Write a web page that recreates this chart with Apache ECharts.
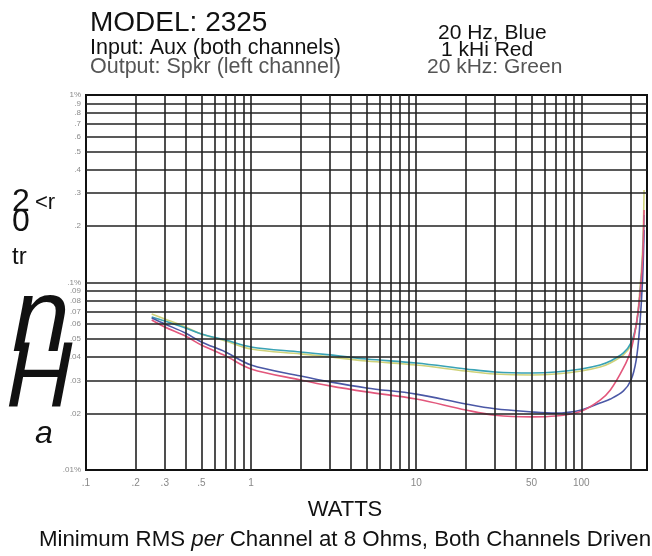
<!DOCTYPE html>
<html>
<head>
<meta charset="utf-8">
<script src="https://cdn.jsdelivr.net/npm/echarts@6/dist/echarts.min.js"></script>
<style>html,body{margin:0;padding:0;background:#fff}#c{width:652px;height:556px}</style>
</head>
<body>
<div id="c"></div>
<script>
// ---- data (watts vs THD %) ----
var watts = [0.25, 0.3, 0.4, 0.5, 0.7, 1, 2, 3, 5, 10, 20, 30, 50, 70, 100, 130, 150, 180, 200, 215, 225, 235, 240];
var thdYellow = [0.0679, 0.0639, 0.0579, 0.0531, 0.0488, 0.0442, 0.0416, 0.0401, 0.0381, 0.0363, 0.0337, 0.0325, 0.0321, 0.0325, 0.0337, 0.0354, 0.0372, 0.0411, 0.0464, 0.0593, 0.0858, 0.149, 0.311];
var thdTeal   = [0.0655, 0.0623, 0.0572, 0.0531, 0.0493, 0.0453, 0.0426, 0.0411, 0.0391, 0.0372, 0.0346, 0.0333, 0.0329, 0.0333, 0.0346, 0.0363, 0.0381, 0.0421, 0.0476, 0.0593, 0.0807, 0.1318, 0.229];
var thdBlue   = [0.0647, 0.0601, 0.0538, 0.0482, 0.0426, 0.0363, 0.0317, 0.0295, 0.0274, 0.0254, 0.0225, 0.0212, 0.0204, 0.0201, 0.0209, 0.0228, 0.0239, 0.0264, 0.0302, 0.0386, 0.0558, 0.1031, 0.1905];
var thdRed    = [0.0631, 0.0579, 0.0518, 0.0464, 0.0406, 0.0346, 0.0302, 0.0281, 0.0261, 0.0239, 0.0209, 0.0196, 0.0192, 0.0194, 0.0206, 0.0236, 0.0267, 0.035, 0.0437, 0.0593, 0.0807, 0.1318, 0.2435];

var xGrid = [0.2,0.3,0.4,0.5,0.6,0.7,0.8,0.9,1,2,3,4,5,6,7,8,9,10,20,30,40,50,60,70,80,90,100,200];
var yGrid = [0.02,0.03,0.04,0.05,0.06,0.07,0.08,0.09,0.1,0.2,0.3,0.4,0.5,0.6,0.7,0.8,0.9];
var xTickVals = [0.1, 0.2, 0.3, 0.5, 1, 10, 50, 100];
var xTickLabels = ['.1', '.2', '.3', '.5', '1', '10', '50', '100'];
var yTickVals = [1,0.9,0.8,0.7,0.6,0.5,0.4,0.3,0.2,0.1,0.09,0.08,0.07,0.06,0.05,0.04,0.03,0.02,0.01];
var yTickLabels = ['1%','.9','.8','.7','.6','.5','.4','.3','.2','.1%','.09','.08','.07','.06','.05','.04','.03','.02','.01%'];

function pairs(ys){ return watts.map(function(w,i){ return [w, ys[i]]; }); }
function lookup(vals, labels, v){
  for (var i=0;i<vals.length;i++){ if (Math.abs(vals[i]-v) < vals[i]*1e-6) return labels[i]; }
  return '';
}

var gridLine = {color:'#222', width:1.6, type:'solid'};
var mlData = [];
xGrid.forEach(function(v){ mlData.push({xAxis:v}); });
yGrid.forEach(function(v){ mlData.push({yAxis:v}); });

var FF = 'Liberation Sans, Arial, sans-serif';
function curve(name, ys, color){
  return {name:name, type:'line', data:pairs(ys), smooth:0.35, symbol:'none', z:4,
    lineStyle:{color:color, width:1.6}, itemStyle:{color:color}};
}

var chart = echarts.init(document.getElementById('c'), null, {renderer:'canvas'});
chart.setOption({
  animation:false,
  backgroundColor:'#fff',
  grid:{left:86, right:5, top:95, bottom:86, show:true, borderColor:'#111', borderWidth:2, backgroundColor:'transparent'},
  xAxis:{type:'log', logBase:10, min:0.1, max:250,
    axisLine:{show:true, lineStyle:{color:'#111', width:2}}, axisTick:{show:false},
    axisLabel:{show:true, customValues:xTickVals, margin:8, color:'#888', fontSize:10, fontFamily:FF,
      hideOverlap:false, showMinLabel:true, showMaxLabel:true,
      formatter:function(v){ return lookup(xTickVals, xTickLabels, v); }},
    splitLine:{show:false}},
  yAxis:{type:'log', logBase:10, min:0.01, max:1,
    axisLine:{show:true, lineStyle:{color:'#111', width:2}}, axisTick:{show:false},
    axisLabel:{show:true, customValues:yTickVals, margin:5, color:'#8a8a8a', fontSize:8, fontFamily:FF,
      hideOverlap:false, showMinLabel:true, showMaxLabel:true,
      formatter:function(v){ return lookup(yTickVals, yTickLabels, v); }},
    splitLine:{show:false}},
  series:[
    {name:'grid', type:'line', data:[], z:1, silent:true,
      markLine:{silent:true, symbol:['none','none'], animation:false, label:{show:false}, lineStyle:gridLine, data:mlData}},
    curve('20 kHz (A)', thdYellow, '#cfd27a'),
    curve('20 kHz (B)', thdTeal, '#3aa3b5'),
    curve('20 Hz', thdBlue, '#4b58a6'),
    curve('1 kHz', thdRed, '#e2577c')
  ],
  graphic:[
    {type:'text', x:90, y:9, style:{text:'MODEL: 2325', fontSize:28, fontFamily:FF, fill:'#111'}},
    {type:'text', x:90, y:37, style:{text:'Input: Aux (both channels)', fontSize:21.5, fontFamily:FF, fill:'#111'}},
    {type:'text', x:90, y:56, style:{text:'Output: Spkr (left channel)', fontSize:21.5, fontFamily:FF, fill:'#555'}},
    {type:'text', x:438, y:23, style:{text:'20 Hz, Blue', fontSize:21, fontFamily:FF, fill:'#111'}},
    {type:'text', x:441, y:40, style:{text:'1 kHi Red', fontSize:21, fontFamily:FF, fill:'#111'}},
    {type:'text', x:427, y:57, style:{text:'20 kHz: Green', fontSize:21, fontFamily:FF, fill:'#555'}},
    {type:'text', x:345, y:499, style:{text:'WATTS', fontSize:22, fontFamily:FF, fill:'#111', align:'center'}},
    {type:'text', x:345, y:529, style:{text:'{a|Minimum RMS }{b|per}{a| Channel at 8 Ohms, Both Channels Driven}', align:'center',
      rich:{a:{fontSize:22.3, fontFamily:FF, fill:'#111', color:'#111'}, b:{fontSize:22.3, fontFamily:FF, fontStyle:'italic', fill:'#111', color:'#111'}}}},
    {type:'text', x:12, y:186, style:{text:'2', fontSize:32, fontFamily:FF, fill:'#111'}},
    {type:'text', x:35, y:192, style:{text:'<r', fontSize:22, fontFamily:FF, fill:'#111'}},
    {type:'text', x:12, y:206, style:{text:'0', fontSize:32, fontFamily:FF, fill:'#111'}},
    {type:'text', x:12, y:245, style:{text:'tr', fontSize:24, fontFamily:FF, fill:'#111'}},
    {type:'text', x:12, y:270, style:{text:'n', fontSize:104, fontFamily:FF, fontStyle:'italic', fill:'#111'}},
    {type:'text', x:6, y:335, style:{text:'H', fontSize:92, fontFamily:FF, fontStyle:'italic', fill:'#111'}},
    {type:'text', x:35, y:418, style:{text:'a', fontSize:32, fontFamily:FF, fontStyle:'italic', fill:'#111'}}
  ]
});
</script>
</body>
</html>
